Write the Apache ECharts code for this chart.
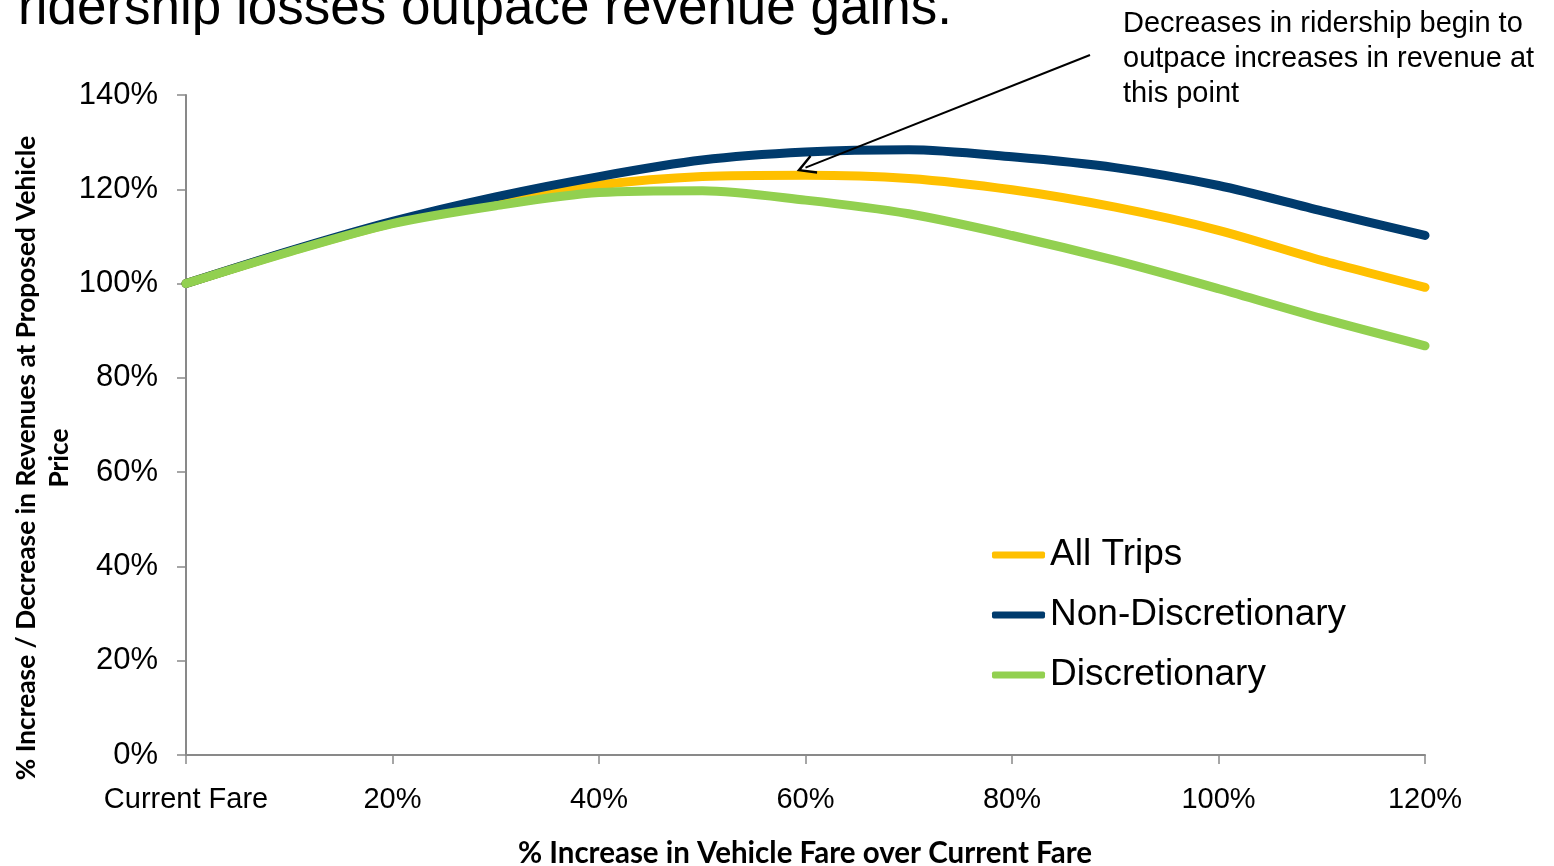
<!DOCTYPE html>
<html>
<head>
<meta charset="utf-8">
<script src="https://cdn.jsdelivr.net/npm/echarts@6/dist/echarts.min.js"></script>
<style>
  html, body { margin: 0; padding: 0; background: #ffffff; }
  #chart { width: 1554px; height: 866px; }
</style>
</head>
<body>
<div id="chart"></div>
<script>
// ---- data ----
var fareIncrease = [0, 10, 20, 30, 40, 50, 60, 70, 80, 90, 100, 110, 120];
var allTrips = [100, 106.8, 112.8, 117.4, 120.9, 122.7, 123.0, 122.3, 119.9, 116.2, 111.3, 104.9, 99.2];
var nonDiscretionary = [100, 106.9, 113.2, 118.4, 122.7, 126.2, 127.9, 128.4, 126.9, 124.6, 120.8, 115.4, 110.2];
var discretionary = [100, 106.7, 112.7, 116.5, 119.3, 119.7, 117.7, 114.8, 110.2, 104.9, 98.9, 92.6, 86.8];
var seriesNames = ['All Trips', 'Non-Discretionary', 'Discretionary'];
var xTickLabels = ['Current Fare', '20%', '40%', '60%', '80%', '100%', '120%'];
var titleText = 'ridership losses outpace revenue gains.';
var annotationText = 'Decreases in ridership begin to\noutpace increases in revenue at\nthis point';
var annotationPoint = [60, 124.6];
var xAxisTitle = '% Increase in Vehicle Fare over Current Fare';
var yAxisTitle = '% Increase / Decrease in Revenues at Proposed Vehicle\nPrice';

function pairs(ys) { return fareIncrease.map(function (x, i) { return [x, ys[i]]; }); }

var FONT = 'Liberation Sans, Arial, sans-serif';
var AXIS_GRAY = '#898989';
var SMOOTH = 0.3;
var chart = echarts.init(document.getElementById('chart'));

var chevron = 'path://M0,0 L-9,16 L-7,17 L0,4.5 L7,17 L9,16 Z';

var option = {
  animation: false,
  backgroundColor: '#ffffff',
  grid: { left: 186, right: 129, top: 95, bottom: 111, containLabel: false },
  xAxis: {
    type: 'value', min: 0, max: 120, interval: 20,
    axisLine: { show: true, lineStyle: { color: AXIS_GRAY, width: 2 } },
    axisTick: { show: true, length: 9, lineStyle: { color: AXIS_GRAY, width: 1.5 } },
    splitLine: { show: false },
    axisLabel: {
      margin: 30, color: '#000', fontFamily: FONT, fontSize: 29,
      formatter: function (v) { return xTickLabels[Math.round(v / 20)]; }
    }
  },
  yAxis: {
    type: 'value', min: 0, max: 140, interval: 20,
    axisLine: { show: true, lineStyle: { color: AXIS_GRAY, width: 2 } },
    axisTick: { show: true, length: 9, lineStyle: { color: AXIS_GRAY, width: 1.5 } },
    splitLine: { show: false },
    axisLabel: { margin: 28, color: '#000', fontFamily: FONT, fontSize: 31, formatter: '{value}%' }
  },
  legend: {
    orient: 'vertical', left: 992, top: 535, padding: 0,
    itemWidth: 53, itemHeight: 7, itemGap: 20, icon: 'roundRect',
    data: seriesNames,
    textStyle: { color: '#000', fontFamily: FONT, fontSize: 37, lineHeight: 40 }
  },
  series: [
    {
      name: seriesNames[0], type: 'line', smooth: SMOOTH, symbol: 'none',
      data: pairs(allTrips), color: '#FFC000',
      lineStyle: { width: 9, color: '#FFC000', cap: 'round' },
      markLine: {
        silent: true, animation: false,
        label: { show: false },
        lineStyle: { color: '#000', width: 2, type: 'solid' },
        data: [[
          { x: 1090, y: 55, symbol: 'none' },
          { coord: annotationPoint, symbol: chevron, symbolSize: [20, 19] }
        ]]
      }
    },
    {
      name: seriesNames[1], type: 'line', smooth: SMOOTH, symbol: 'none',
      data: pairs(nonDiscretionary), color: '#003B6D',
      lineStyle: { width: 9, color: '#003B6D', cap: 'round' }
    },
    {
      name: seriesNames[2], type: 'line', smooth: SMOOTH, symbol: 'none',
      data: pairs(discretionary), color: '#92D050',
      lineStyle: { width: 9, color: '#92D050', cap: 'round' }
    }
  ],
  graphic: [
    {
      type: 'text', x: 18, y: 9,
      style: { text: titleText, fontFamily: FONT, fontSize: 53, fill: '#000', verticalAlign: 'middle', align: 'left' }
    },
    {
      type: 'text', x: 1123, y: 6,
      style: { text: annotationText, fontFamily: FONT, fontSize: 29, lineHeight: 35, fill: '#000', verticalAlign: 'top', align: 'left' }
    },
    {
      type: 'text', x: 805, y: 853,
      style: { text: xAxisTitle, fontFamily: 'Lato, sans-serif', fontWeight: 'bold', fontSize: 29.5, fill: '#000', verticalAlign: 'middle', align: 'center' }
    },
    {
      type: 'text', x: 43, y: 458, rotation: Math.PI / 2,
      style: { text: yAxisTitle, fontFamily: 'Lato, sans-serif', fontWeight: 'bold', fontSize: 26.3, lineHeight: 33, fill: '#000', verticalAlign: 'middle', align: 'center' }
    }
  ]
};
chart.setOption(option);
</script>
</body>
</html>
